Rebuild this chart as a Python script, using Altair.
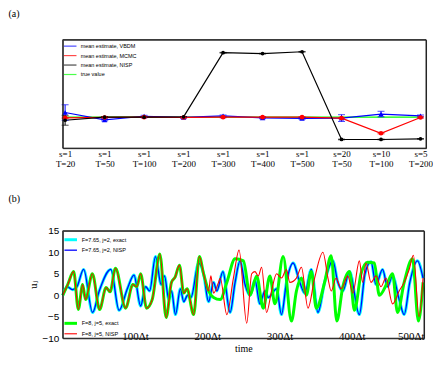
import altair as alt
import pandas as pd

# ---------------- panel (a) data ----------------
categories = ["s=1|T=20", "s=1|T=50", "s=1|T=100", "s=1|T=200", "s=1|T=300",
              "s=1|T=400", "s=1|T=500", "s=20|T=50", "s=10|T=100", "s=5|T=200"]
series_a = ["mean estimate, VBDM", "mean estimate, MCMC", "mean estimate, NISP", "true value"]
colors_a = ["#0000ff", "#ff0000", "#000000", "#00ff00"]
vbdm_mean = [8.015, 7.991, 8.003, 7.999, 8.004, 7.998, 7.996, 7.997, 8.010, 8.004]
vbdm_err = [0.025, 0.003, 0.003, 0.002, 0.003, 0.003, 0.003, 0.011, 0.009, 0.003]
mcmc_mean = [7.998, 7.999, 8.000, 7.999, 8.000, 8.000, 8.000, 7.997, 7.948, 7.999]
mcmc_err = [0.002, 0.002, 0.002, 0.002, 0.002, 0.002, 0.002, 0.002, 0.002, 0.002]
nisp_mean = [7.990, 8.000, 8.000, 8.001, 8.208, 8.205, 8.211, 7.928, 7.928, 7.930]
nisp_err = [0.016, 0.002, 0.001, 0.001, 0.001, 0.001, 0.001, 0.001, 0.001, 0.001]
true_value = [8.0, 8.0, 8.0, 8.0, 8.0, 8.0, 8.0, 8.0, 8.0, 8.0]
y_domain_a = [7.9, 8.25]

# ---------------- panel (b) data ----------------
series_b1 = ["F=7.65, j=2, exact", "F=7.65, j=2, NISP"]
series_b2 = ["F=8, j=5, exact", "F=8, j=5, NISP"]
x_domain_b = [0, 500]
y_domain_b = [-10, 15]

u2_t = [0, 6.0, 13.8, 19.7, 28.9, 41.3, 50.5, 66.5, 78.0, 89.4,
        98.6, 107.8, 114.7, 120.2, 128.4, 136.2, 140.8, 146.8, 150.5, 156.0,
        162.8, 167.4, 172.9, 177.5, 188.1, 194.9, 201.8, 208.7, 213.3, 221.6,
        231.6, 238.5, 245.4, 252.3, 259.2, 266.0, 272.9, 279.8, 284.4, 295.9,
        302.7, 309.6, 318.8, 328.0, 334.9, 344.0, 353.2, 362.4, 373.8, 380.7,
        387.6, 396.8, 410.5, 418.3, 426.6, 433.5, 442.6, 449.5, 456.4, 465.6,
        472.5, 480.3, 490.8, 498.6]
u2_exact = [0, 2, 1.3, 2, 6, -4, 1, 6, -3.5, 1.5,
            4.7, -2.5, 2, 1, 9, 2.5, 4.5, -1, 1, -4.5,
            1.5, -1.5, 0, -0.5, 7.5, 5, -1.5, 3, 1, 5.5,
            -4, 3, 8, 2.5, 0, 3.5, -2, 1, -0.5, 1.5,
            -4.5, 3, 7.5, 3, 0.5, 6, -4, 3, 8, 3,
            1, 5.5, -4.5, 5, 7.8, 2.5, 6, 2, 4.5, -1,
            -4.5, 3, 8, 4]
u2_nisp = [0, 2, 1.3, 2, 6, -4, 1, 6, -3.5, 1.5,
           4.7, -2.5, 2, 1, 9, 2.5, 4.5, -1, 1, -4.5,
           1.5, -1.5, 0, -0.5, 7.5, 5, -1.5, 3, 1, 5.5,
           -4, 3, 8, 2.5, 0, 3.5, -2, 1, -0.5, 1.5,
           -4.5, 3, 7.5, 3, 0.5, 6, -4, 3, 8, 3,
           1, 5.5, -4.5, 5, 7.8, 2.5, 6, 2, 4.5, -1,
           -4.5, 3, 8, 4]

u5_exact_t = [0, 6.9, 15.1, 21.6, 27.5, 31.5, 41.0, 51.0, 60.0, 65.5,
              73.0, 87.0, 97.0, 102.5, 107.8, 116.0, 123.8, 134.4, 143.1, 150.5,
              155.5, 161.5, 167.4, 172.0, 181.2, 189.0, 194.9, 201.8,
              208.7, 217.9, 227.1, 238.5, 250.0, 259.2, 268.3, 277.5, 286.7, 293.6,
              305.0, 316.5, 323.4, 330.3, 337.1, 344.0, 350.9, 362.4, 371.5, 379.3,
              387.6, 396.8, 403.7, 412.8, 422.0, 431.2, 438.1, 449.5, 456.4, 463.3,
              472.5, 484.0, 492.2, 498.6]
u5_exact = [0, 2.5, 5.5, -3.3, 2.5, -1, 5, -3.3, 1.8, 0.8,
            6.3, -3, 2.5, 2, 5, -3, -1, 9.6, -5.2, 3,
            4.2, 7, 0.5, 1.5, -4.5, 9, 5, 1,
            -0.5, -1, 3, 8.5, 8, 0, 4.5, -3, 4.5, -2,
            9, -6, 1, 4, 0, 5.5, -3, 3, 9.2, -6,
            2, 5.5, -3.5, 5, 7.7, 7.5, 0, 3, 5, -4,
            3, 8.5, -6, 3]

u5_nisp_t = [0, 6.9, 15.1, 21.6, 27.5, 31.5, 41.0, 51.0, 60.0, 65.5,
             73.0, 87.0, 97.0, 102.5, 107.8, 116.0, 123.8, 134.4, 143.1, 150.5,
             155.5, 161.5, 167.4, 172.0, 181.2, 189.0, 194.9, 201.8,
             205.0, 208.7, 215.6, 217.9, 227.1, 236.2, 244.0, 254.6, 261.5, 266.0,
             270.6, 275.2, 282.1, 289.0, 295.9, 302.7, 309.6, 314.2, 323.4, 330.3,
             339.4, 348.6, 360.1, 367.0, 371.5, 378.4, 385.3, 394.5, 401.4, 410.5,
             415.1, 419.7, 426.6, 433.5, 440.4, 447.2, 456.4, 465.6, 472.5, 479.4,
             485.3, 493.1, 498.6]
u5_nisp = [0, 2.5, 5.5, -3.3, 2.5, -1, 5, -3.3, 1.8, 0.8,
           6.3, -3, 2.5, 2, 5, -3, -1, 9.6, -5.2, 3,
           4.2, 7, 0.5, 1.5, -4.5, 9, 5, 1,
           4.5, 0.5, 3, 4, -4.5, 4, 10.5, -6.5, 5, 5.5,
           4.5, 6.5, -4, 1, 5, 4, 6, 3, 4, 6.5,
           -3, 4, 10, 4, 1, 4, 1.5, 4.5, 0.5, 8,
           3, 7.5, 3, 4.5, 2, 4, -2, 1, 3, 6,
           9.3, -5, 4]

# ---------------- panel (a) chart ----------------
rows = []
for name, means, errs in [(series_a[0], vbdm_mean, vbdm_err),
                          (series_a[1], mcmc_mean, mcmc_err),
                          (series_a[2], nisp_mean, nisp_err)]:
    for c, m, e in zip(categories, means, errs):
        rows.append({"cat": c, "series": name, "mean": m, "lo": m - e, "hi": m + e})
df_a = pd.DataFrame(rows)
df_true = pd.DataFrame({"cat": categories, "series": series_a[3], "mean": true_value})

sans = "Liberation Sans"
serif = "Liberation Serif"
edge = "#222222"
W_A, H_A = 365, 109
W_B, H_B = 363, 108

x_scale_a = alt.Scale(type="point", domain=categories, padding=0.1, align=0.3)
x_axis_a = alt.Axis(labelExpr="split(datum.label, '|')", labelAngle=0, labelFont=serif,
                    labelFontSize=9, labelLineHeight=10, labelPadding=1, ticks=False,
                    domain=False, grid=False, labelBaseline="top", labelOverlap=False,
                    title=None)
y_scale_a = alt.Scale(domain=y_domain_a, nice=False, zero=False)
y_axis_a = alt.Axis(values=[7.9, 8.0, 8.1, 8.2], format=".1~f", labelFont=sans, labelFontSize=10,
                    labelPadding=2, ticks=False, domain=False, grid=False, labelOverlap=False,
                    title="mean estimate", titleFont=serif, titleFontSize=7.5,
                    titleFontWeight="normal", titlePadding=3)


def xa(axis=None):
    return alt.X("cat:N", sort=categories, scale=x_scale_a, axis=axis, title=None)


def ya(field, axis=None):
    return alt.Y(field, scale=y_scale_a, axis=axis)


legend_a = alt.Legend(title=None, orient="none", legendX=3, legendY=2, padding=0,
                      labelFont=sans, labelFontSize=5.5, symbolType="M-1.8,0L1.8,0",
                      symbolSize=49, rowPadding=1.5, labelOffset=6, labelLimit=300)
color_a = alt.Color("series:N", scale=alt.Scale(domain=series_a, range=colors_a), legend=legend_a)
width_a = alt.StrokeWidth("series:N", scale=alt.Scale(domain=series_a, range=[1.2, 1.2, 1.2, 3]),
                          legend=legend_a)

true_line = alt.Chart(df_true).mark_line().encode(
    x=xa(x_axis_a), y=ya("mean:Q", y_axis_a), color=color_a, strokeWidth=width_a)
est_lines = alt.Chart(df_a).mark_line().encode(
    x=xa(x_axis_a), y=ya("mean:Q", y_axis_a), color=color_a, strokeWidth=width_a)
err_rule = alt.Chart(df_a).mark_rule(strokeWidth=1).encode(
    x=xa(x_axis_a), y=ya("lo:Q", y_axis_a), y2="hi:Q", color=color_a)
err_lo = alt.Chart(df_a).mark_tick(thickness=1, size=7).encode(
    x=xa(x_axis_a), y=ya("lo:Q", y_axis_a), color=color_a)
err_hi = alt.Chart(df_a).mark_tick(thickness=1, size=7).encode(
    x=xa(x_axis_a), y=ya("hi:Q", y_axis_a), color=color_a)
markers = alt.Chart(df_a).mark_point(filled=True, opacity=1).encode(
    x=xa(x_axis_a), y=ya("mean:Q", y_axis_a), color=color_a,
    shape=alt.Shape("series:N", scale=alt.Scale(domain=series_a[:3],
                    range=["triangle-up", "circle", "circle"]), legend=None),
    size=alt.Size("series:N", scale=alt.Scale(domain=series_a[:3], range=[30, 14, 6]), legend=None))

# frame of panel (a): horizontal edges at the y-domain limits, vertical edges at the sides
frame_a_h = alt.Chart(pd.DataFrame({"yv": y_domain_a})).mark_rule(
    color=edge, strokeWidth=1).encode(
    y=alt.Y("yv:Q", scale=y_scale_a, axis=None), x=alt.value(0), x2=alt.value(W_A))
frame_a_v = alt.Chart(pd.DataFrame({"xv": [0, W_A], "y0": [y_domain_a[0]] * 2,
                                    "y1": [y_domain_a[1]] * 2})).mark_rule(
    color=edge, strokeWidth=1).encode(
    x=alt.X("xv:Q", scale=None, axis=None), y=alt.Y("y0:Q", scale=y_scale_a, axis=None), y2="y1:Q")

top = alt.layer(true_line, est_lines, err_rule, err_lo, err_hi, markers,
                frame_a_h, frame_a_v).properties(
    width=W_A, height=H_A,
    title=alt.TitleParams("(a)", anchor="start", frame="group", dx=-54.5, offset=20,
                          font=serif, fontSize=10, fontWeight="normal"))

# ---------------- panel (b) chart ----------------
x_scale_b = alt.Scale(domain=x_domain_b, nice=False)
y_scale_b = alt.Scale(domain=y_domain_b, nice=False)
x_axis_b = alt.Axis(values=[100, 200, 300, 400, 500], labelExpr="datum.value + 'Δt'",
                    labelFont=serif, labelFontSize=11, labelPadding=3, labelBaseline="bottom",
                    ticks=False, domain=False, grid=False, title="time", labelOverlap=False,
                    titleFont=serif, titleFontSize=10, titleFontWeight="normal", titlePadding=2)
y_axis_b = alt.Axis(values=[-10, -5, 0, 5, 10, 15], labelFont=sans, labelFontSize=10,
                    labelPadding=4, ticks=False, domain=False, grid=False, labelOverlap=False,
                    title="uⱼ", titleFont="DejaVu Serif", titleFontSize=9,
                    titleFontWeight="normal", titlePadding=3)


def series_line(ts, us, name, dom, rng, widths, legend):
    df = pd.DataFrame({"t": ts, "u": us, "series": name})
    return alt.Chart(df).mark_line(interpolate="monotone").encode(
        x=alt.X("t:Q", scale=x_scale_b, axis=x_axis_b),
        y=alt.Y("u:Q", scale=y_scale_b, axis=y_axis_b),
        color=alt.Color("series:N", scale=alt.Scale(domain=dom, range=rng), legend=legend),
        strokeWidth=alt.StrokeWidth("series:N", scale=alt.Scale(domain=dom, range=widths),
                                    legend=legend))


legend_b1 = alt.Legend(title=None, orient="none", legendX=3, legendY=4, padding=0,
                       labelFont=sans, labelFontSize=5.6, symbolType="M-1.8,0L1.8,0",
                       symbolSize=49, rowPadding=0, labelOffset=6, labelLimit=300)
legend_b2 = alt.Legend(title=None, orient="none", legendX=3, legendY=88, padding=0,
                       labelFont=sans, labelFontSize=5.6, symbolType="M-1.8,0L1.8,0",
                       symbolSize=49, rowPadding=0, labelOffset=6, labelLimit=300)

rng1 = ["#00ffff", "#0000ff"]
rng2 = ["#00ff00", "#ff0000"]
group1 = alt.layer(
    series_line(u2_t, u2_exact, series_b1[0], series_b1, rng1, [3, 1.3], legend_b1),
    series_line(u2_t, u2_nisp, series_b1[1], series_b1, rng1, [3, 1.3], legend_b1))
group2 = alt.layer(
    series_line(u5_exact_t, u5_exact, series_b2[0], series_b2, rng2, [3, 1.1], legend_b2),
    series_line(u5_nisp_t, u5_nisp, series_b2[1], series_b2, rng2, [3, 1.1], legend_b2))

# frame of panel (b): the four edges of the data domain
frame_b_df = pd.DataFrame({
    "t0": [x_domain_b[0], x_domain_b[1], x_domain_b[0], x_domain_b[0]],
    "t1": [x_domain_b[0], x_domain_b[1], x_domain_b[1], x_domain_b[1]],
    "u0": [y_domain_b[0], y_domain_b[0], y_domain_b[0], y_domain_b[1]],
    "u1": [y_domain_b[1], y_domain_b[1], y_domain_b[0], y_domain_b[1]],
})
frame_b = alt.Chart(frame_b_df).mark_rule(color=edge, strokeWidth=1).encode(
    x=alt.X("t0:Q", scale=x_scale_b, axis=x_axis_b), x2="t1:Q",
    y=alt.Y("u0:Q", scale=y_scale_b, axis=y_axis_b), y2="u1:Q")

bottom = alt.layer(group1, group2, frame_b).resolve_scale(
    color="independent", strokeWidth="independent").resolve_legend(
    color="independent", strokeWidth="independent").properties(
    width=W_B, height=H_B,
    title=alt.TitleParams("(b)", anchor="start", frame="group", dx=-54.5, offset=22,
                          font=serif, fontSize=10, fontWeight="normal"))

chart = alt.vconcat(top, bottom, spacing=24).properties(
    padding={"left": 0, "top": 0, "right": 0, "bottom": 0},
    background="white"
).configure_view(stroke=edge, strokeWidth=1)

chart.save("out.html", embed_options={"renderer": "svg", "actions": False})
